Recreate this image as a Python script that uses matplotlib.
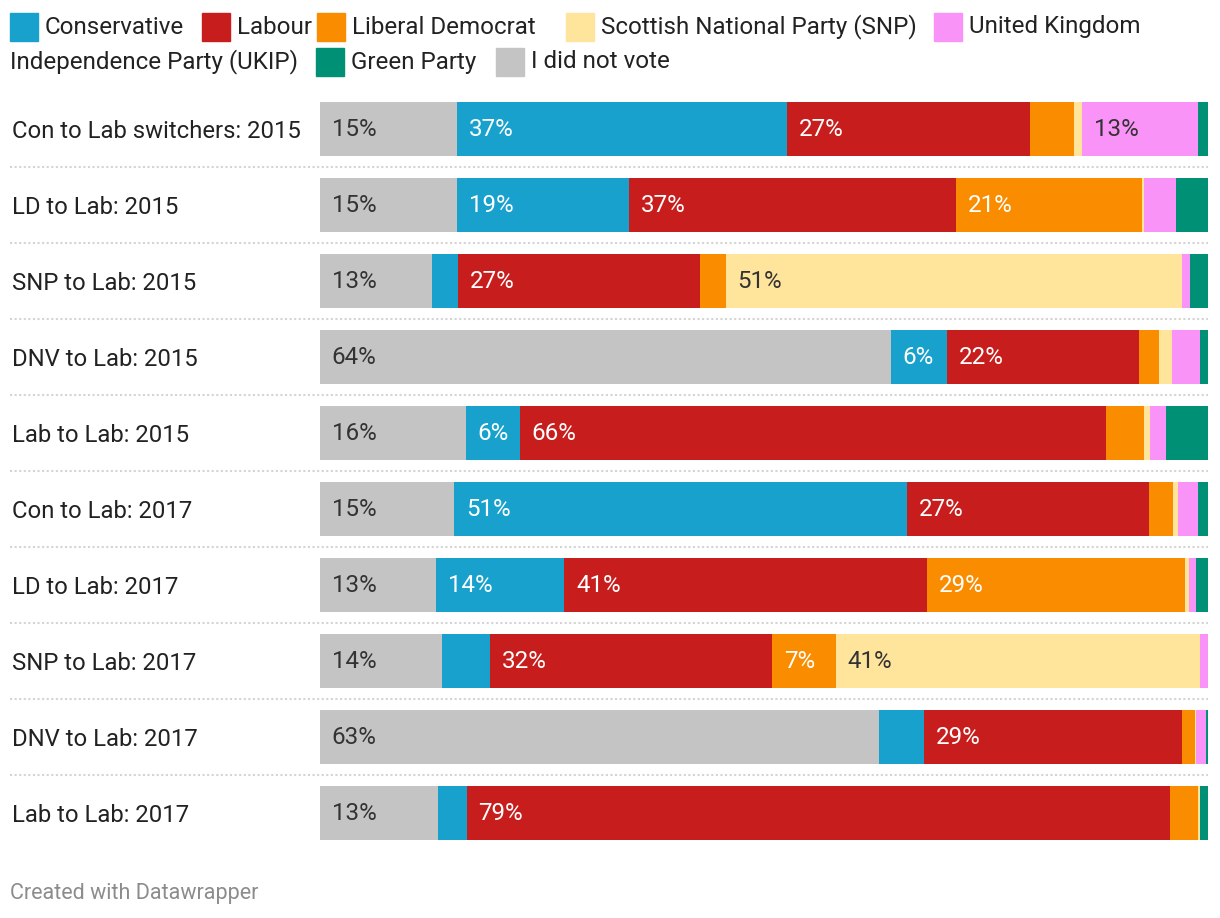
import matplotlib.pyplot as plt
from matplotlib.patches import Rectangle

plt.rcParams['font.family'] = ['Roboto', 'DejaVu Sans']

rows = ["Con to Lab switchers: 2015", "LD to Lab: 2015", "SNP to Lab: 2015",
        "DNV to Lab: 2015", "Lab to Lab: 2015", "Con to Lab: 2017",
        "LD to Lab: 2017", "SNP to Lab: 2017", "DNV to Lab: 2017",
        "Lab to Lab: 2017"]

# stacking order: did not vote, Con, Lab, LD, SNP, UKIP, Green
did_not_vote = [15.4, 15.4, 12.6, 64.3, 16.4, 15.1, 13.1, 13.7, 63.0, 13.3]
conservative = [37.2, 19.4, 2.9, 6.3, 6.1, 51.0, 14.4, 5.4, 5.0, 3.2]
labour = [27.3, 36.8, 27.3, 21.6, 66.0, 27.3, 40.9, 31.8, 29.1, 79.2]
lib_dem = [5.0, 21.0, 2.9, 2.3, 4.3, 2.7, 29.0, 7.2, 1.4, 3.2]
snp = [0.9, 0.2, 51.4, 1.4, 0.7, 0.5, 0.5, 41.0, 0.2, 0.2]
ukip = [13.1, 3.6, 0.9, 3.2, 1.8, 2.3, 0.7, 0.9, 1.1, 0.0]
green = [1.1, 3.6, 2.0, 0.9, 4.7, 1.1, 1.4, 0.0, 0.2, 0.9]

series = [
    ("I did not vote", did_not_vote, "#c4c4c4", "#333333"),
    ("Conservative", conservative, "#18a1cd", "white"),
    ("Labour", labour, "#c71e1d", "white"),
    ("Liberal Democrat", lib_dem, "#fa8c00", "white"),
    ("Scottish National Party (SNP)", snp, "#ffe59c", "#333333"),
    ("United Kingdom Independence Party (UKIP)", ukip, "#fa93f8", "#333333"),
    ("Green Party", green, "#009076", "white"),
]
colors = {s[0]: s[2] for s in series}
FS = 17.4

fig = plt.figure(figsize=(12.2, 9.18), dpi=100)
W, H = 1220, 918
ax = fig.add_axes([320 / W, 1 - 851 / H, 888 / W, 760 / H])

y = list(range(len(rows)))
left = [0.0] * len(rows)
for name, vals, col, tcol in series:
    ax.barh(y, vals, left=left, height=0.71, color=col, linewidth=0)
    for i, v in enumerate(vals):
        if v >= 5.9:
            ax.annotate(f"{round(v)}%", (left[i], i), xytext=(8.5, 0),
                        textcoords="offset points", va="center", ha="left",
                        fontsize=FS, color=tcol)
    left = [a + b for a, b in zip(left, vals)]

ax.set_xlim(0, 100)
ax.set_ylim(len(rows) - 0.5, -0.5)
ax.axis("off")

for i, r in enumerate(rows):
    ax.annotate(r, (-308 / 888 * 100, i), xytext=(0, -1.5),
                textcoords="offset points", va="center", ha="left",
                fontsize=17.2, color="#222222", annotation_clip=False)
    if i < len(rows) - 1:
        ax.axhline(i + 0.5, xmin=-310 / 888, xmax=1, clip_on=False,
                   color="#d4d4d4", lw=1.5, linestyle=(0, (1, 1.2)))

# legend, laid out like the datawrapper key (two wrapped lines)
def legend_item(x, ycen, key, label):
    fig.patches.append(Rectangle((x / W, 1 - (ycen + 14) / H), 28 / W, 28 / H,
                                 transform=fig.transFigure, color=colors[key]))
    fig.text((x + 35) / W, 1 - ycen / H, label, va="center",
             ha="left", fontsize=FS, color="#222222")

legend_item(10, 27, "Conservative", "Conservative")
legend_item(202, 27, "Labour", "Labour")
legend_item(317, 27, "Liberal Democrat", "Liberal Democrat")
legend_item(566, 27, "Scottish National Party (SNP)",
            "Scottish National Party (SNP)")
legend_item(934, 27, "United Kingdom Independence Party (UKIP)",
            "United Kingdom")
fig.text(10 / W, 1 - 62 / H, "Independence Party (UKIP)", va="center",
         ha="left", fontsize=FS, color="#222222")
legend_item(316, 62, "Green Party", "Green Party")
legend_item(496, 62, "I did not vote", "I did not vote")

fig.text(10 / W, 1 - 894 / H, "Created with Datawrapper", va="center",
         ha="left", fontsize=15.5, color="#8c8c8c")

fig.savefig("out.png", dpi=100, facecolor="white")
